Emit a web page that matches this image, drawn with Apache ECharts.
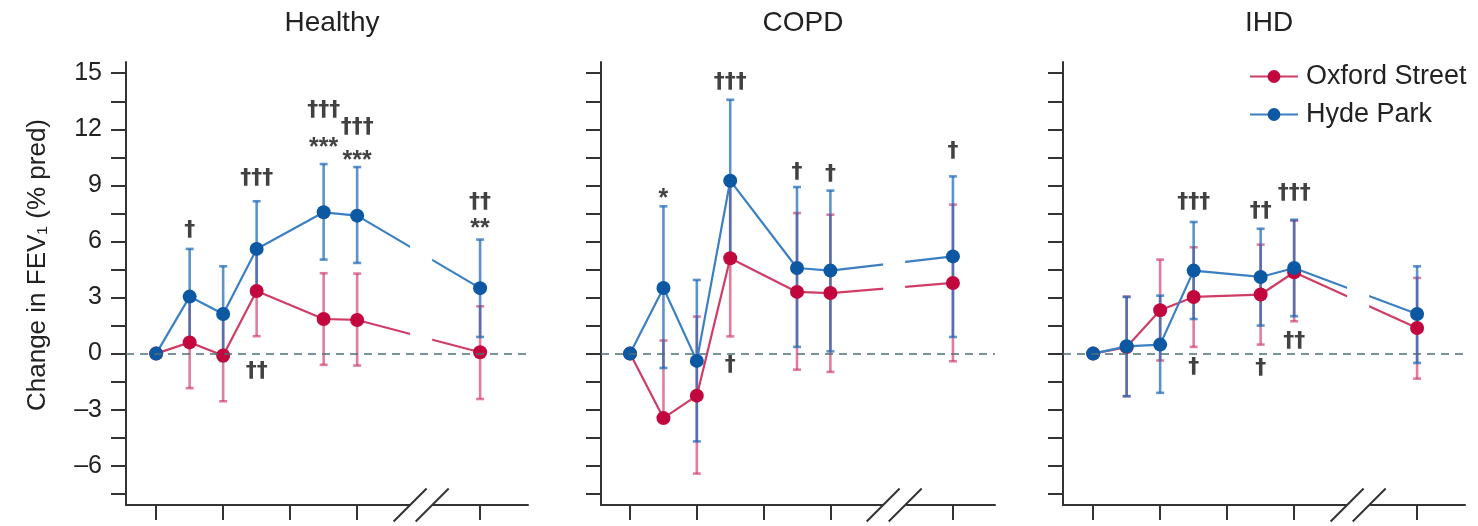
<!DOCTYPE html>
<html><head><meta charset="utf-8">
<script src="https://cdn.jsdelivr.net/npm/echarts@6/dist/echarts.min.js"></script>
<style>html,body{margin:0;padding:0;background:#fff}#c{width:1478px;height:526px}</style>
</head><body><div id="c"></div><script>
// ---------- data ----------
const panelTitles = ['Healthy', 'COPD', 'IHD'];
// axis position of each visit (hours 0,1,2,3,5,6 and 24 h drawn after the axis break)
const timeSlots = [0, 1, 2, 3, 5, 6, 9.67];
const xTickValues = [0, 2, 4, 6, 9.67];
const yTickValues = [-7.5, -6, -4.5, -3, -1.5, 0, 1.5, 3, 4.5, 6, 7.5, 9, 10.5, 12, 13.5, 15];
const yLabelValues = [-6, -3, 0, 3, 6, 9, 12, 15];
const axisBreak = [7.58, 8.24];
const seriesNames = ['Oxford Street', 'Hyde Park'];

// Healthy
const healthyOxford     = [0, 0.6, -0.1, 3.35, 1.85, 1.8, 0.07];
const healthyOxfordLow  = [null, -1.85, -2.55, 0.93, -0.6, -0.64, -2.43];
const healthyOxfordHigh = [null, 3.0, 2.2, 5.65, 4.3, 4.28, 2.53];
const healthyHyde       = [0, 3.05, 2.12, 5.6, 7.56, 7.38, 3.5];
const healthyHydeLow    = [null, 0.57, -0.4, 3.2, 5.03, 4.85, 0.89];
const healthyHydeHigh   = [null, 5.6, 4.67, 8.15, 10.14, 9.98, 6.1];
const healthyMarks = [[1, 6.6, '†'], [3, 9.4, '†††'], [3, -0.97, '††'], [5, 13.0, '†††'], [5, 11.2, '***'],
                      [6, 12.1, '†††'], [6, 10.5, '***'], [9.67, 8.1, '††'], [9.67, 6.9, '**']];
// COPD
const copdOxford     = [0, -3.45, -2.25, 5.1, 3.3, 3.24, 3.78];
const copdOxfordLow  = [null, -3.45, -6.42, 0.92, -0.86, -0.98, -0.41];
const copdOxfordHigh = [null, 0.7, 1.98, 9.2, 7.52, 7.43, 7.97];
const copdHyde       = [0, 3.51, -0.39, 9.25, 4.58, 4.44, 5.2];
const copdHydeLow    = [null, -0.77, -4.7, 5.06, 0.36, 0.12, 0.89];
const copdHydeHigh   = [null, 7.88, 3.94, 13.58, 8.91, 8.72, 9.48];
const copdMarks = [[1, 8.5, '*'], [3, 14.5, '†††'], [3, -0.6, '†'], [5, 9.7, '†'], [6, 9.6, '†'], [9.67, 10.8, '†']];
// IHD
const ihdOxford     = [0, 0.35, 2.32, 3.03, 3.16, 4.35, 1.37];
const ihdOxfordLow  = [null, -2.28, -0.37, 0.36, 0.48, 1.73, -1.34];
const ihdOxfordHigh = [null, 3.05, 5.03, 5.69, 5.83, 7.11, 4.05];
const ihdHyde       = [0, 0.39, 0.48, 4.44, 4.1, 4.58, 2.12];
const ihdHydeLow    = [null, -2.28, -2.1, 1.85, 1.5, 2.0, -0.5];
const ihdHydeHigh   = [null, 3.03, 3.1, 7.04, 6.68, 7.16, 4.67];
const ihdMarks = [[3, 8.1, '†††'], [3, -0.75, '†'], [5, 7.6, '††'], [5, -0.8, '†'], [6, 8.6, '†††'], [6, 0.64, '††']];

// ---------- styling / layout ----------
const FONT = '"Liberation Sans Narrow", "Liberation Sans", "Noto Sans", sans-serif';
const RED_DOT = '#c1073e', RED_LINE = '#cf3d66', RED_BAR = 'rgba(205,45,95,0.62)';
const BLUE_DOT = '#0c58a3', BLUE_LINE = '#3a80c3', BLUE_BAR = 'rgba(30,105,185,0.72)';
const AXIS = '#333';
const grids = [
  { left: 126, width: 402, min: -0.9, max: 11.1 },
  { left: 601, width: 394, min: -0.87, max: 10.93 },
  { left: 1063, width: 402, min: -0.9, max: 11.1 }
];
const panelData = [
  { ox: healthyOxford, oxL: healthyOxfordLow, oxH: healthyOxfordHigh, hy: healthyHyde, hyL: healthyHydeLow, hyH: healthyHydeHigh, marks: healthyMarks },
  { ox: copdOxford, oxL: copdOxfordLow, oxH: copdOxfordHigh, hy: copdHyde, hyL: copdHydeLow, hyH: copdHydeHigh, marks: copdMarks },
  { ox: ihdOxford, oxL: ihdOxfordLow, oxH: ihdOxfordHigh, hy: ihdHyde, hyL: ihdHydeLow, hyH: ihdHydeHigh, marks: ihdMarks }
];

const fmtY = v => v < 0 ? '–' + (-v) : String(v);

function lineSeries(i, name, vals, dot, line, withZero) {
  const s = {
    type: 'line', name, xAxisIndex: i, yAxisIndex: i, z: 3,
    data: timeSlots.map((x, k) => [x, vals[k]]),
    symbol: 'circle', symbolSize: 14, showAllSymbol: true,
    itemStyle: { color: dot },
    lineStyle: { color: line, width: 2.2 },
    emphasis: { disabled: true }, animation: false
  };
  if (withZero) {
    s.markLine = {
      silent: true, symbol: 'none', label: { show: false },
      lineStyle: { color: '#4f7078', width: 1.6, type: [8, 6] },
      data: [{ yAxis: 0 }], animation: false
    };
  }
  return s;
}
function errorSeries(i, low, high, color) {
  const data = [];
  timeSlots.forEach((x, k) => { if (low[k] != null) data.push([x, low[k], high[k]]); });
  return {
    type: 'custom', xAxisIndex: i, yAxisIndex: i, z: 2, clip: false, silent: true,
    encode: { x: 0, y: [1, 2] }, data, animation: false,
    renderItem(params, api) {
      const x = api.value(0);
      const lo = api.coord([x, api.value(1)]);
      const hi = api.coord([x, api.value(2)]);
      const w = 4, st = { stroke: color, lineWidth: 2.6 };
      return { type: 'group', children: [
        { type: 'line', shape: { x1: lo[0], y1: lo[1], x2: hi[0], y2: hi[1] }, style: st },
        { type: 'line', shape: { x1: hi[0] - w, y1: hi[1], x2: hi[0] + w, y2: hi[1] }, style: st },
        { type: 'line', shape: { x1: lo[0] - w, y1: lo[1], x2: lo[0] + w, y2: lo[1] }, style: st }
      ]};
    }
  };
}
function breakSeries(i) {
  return {
    type: 'custom', xAxisIndex: i, yAxisIndex: i, z: 4, clip: false, silent: true, animation: false,
    data: [axisBreak],
    renderItem(params, api) {
      const cs = params.coordSys;
      const a = api.coord([api.value(0), 0.45]);
      const b = api.coord([api.value(1), 0.45]);
      const t = api.coord([api.value(0), 7.5]);
      const yb = cs.y + cs.height;
      const d = 16.5;
      const st = { stroke: AXIS, lineWidth: 2 };
      return { type: 'group', children: [
        { type: 'rect', shape: { x: a[0], y: t[1], width: b[0] - a[0], height: a[1] - t[1] }, style: { fill: '#fff' } },
        { type: 'rect', shape: { x: a[0], y: yb - 3, width: b[0] - a[0], height: 6 }, style: { fill: '#fff' } },
        { type: 'line', shape: { x1: a[0] - d, y1: yb + d, x2: a[0] + d, y2: yb - d }, style: st },
        { type: 'line', shape: { x1: b[0] - d, y1: yb + d, x2: b[0] + d, y2: yb - d }, style: st }
      ]};
    }
  };
}
function markSeries(i, marks) {
  return {
    type: 'scatter', xAxisIndex: i, yAxisIndex: i, z: 5, silent: true, animation: false,
    symbolSize: 1, itemStyle: { color: 'rgba(0,0,0,0)' },
    data: marks.map(m => {
      const star = m[2].charAt(0) === '*';
      return { value: [m[0], m[1]], label: { formatter: m[2],
        fontSize: star ? 25 : 22, offset: star ? [0, 4] : [0, 0],
        fontFamily: star ? '"Liberation Sans", sans-serif' : '"DejaVu Sans", sans-serif' } };
    }),
    label: { show: true, position: 'inside', color: '#111', fontWeight: 'bold' }
  };
}

const option = {
  backgroundColor: '#fff',
  animation: false,
  title: panelTitles.map((t, i) => ({
    text: t, left: grids[i].left + grids[i].width / 2, top: 4, textAlign: 'center',
    textStyle: { fontFamily: FONT, fontSize: 28, fontWeight: 'normal', color: '#222' }
  })),
  legend: {
    data: seriesNames, orient: 'vertical', left: 1244, top: 58, z: 20,
    itemWidth: 48, itemHeight: 16, itemGap: 11,
    textStyle: { fontFamily: FONT, fontSize: 27, color: '#222', padding: [0, 0, 0, 3] },
    selectedMode: false
  },
  grid: grids.map(g => ({ left: g.left, width: g.width, top: 62, bottom: 21 })),
  xAxis: grids.map((g, i) => ({
    type: 'value', gridIndex: i, min: g.min, max: g.max,
    splitLine: { show: false },
    axisLine: { onZero: false, lineStyle: { color: AXIS, width: 2 } },
    axisTick: { show: true, customValues: xTickValues, length: 15, lineStyle: { color: AXIS, width: 2 } },
    axisLabel: { show: false }
  })),
  yAxis: grids.map((g, i) => ({
    type: 'value', gridIndex: i, min: -8.1, max: 15.6,
    splitLine: { show: false },
    axisLine: { onZero: false, lineStyle: { color: AXIS, width: 2 } },
    axisTick: { show: true, customValues: yTickValues, length: 15, lineStyle: { color: AXIS, width: 2 } },
    axisLabel: { show: i === 0, customValues: yLabelValues, formatter: fmtY, margin: 24,
                 fontFamily: FONT, fontSize: 25, color: '#222' }
  })),
  graphic: [{
    type: 'text', x: 38, y: 265, rotation: Math.PI / 2, silent: true,
    style: { text: 'Change in FEV₁ (% pred)', fontFamily: FONT, fontSize: 26, fill: '#222',
             align: 'center', verticalAlign: 'middle' }
  }],
  series: []
};
panelData.forEach((p, i) => {
  option.series.push(errorSeries(i, p.oxL, p.oxH, RED_BAR));
  option.series.push(errorSeries(i, p.hyL, p.hyH, BLUE_BAR));
  option.series.push(lineSeries(i, seriesNames[0], p.ox, RED_DOT, RED_LINE, true));
  option.series.push(lineSeries(i, seriesNames[1], p.hy, BLUE_DOT, BLUE_LINE, false));
  option.series.push(breakSeries(i));
  option.series.push(markSeries(i, p.marks));
});
const chart = echarts.init(document.getElementById('c'), null, { renderer: 'canvas' });
chart.setOption(option);
</script></body></html>
